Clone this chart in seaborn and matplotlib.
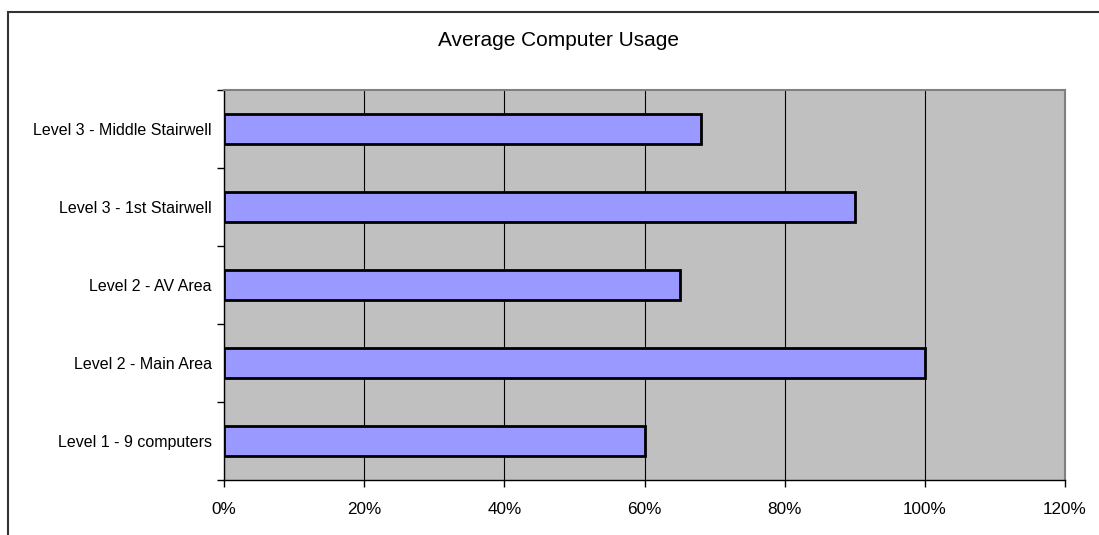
import matplotlib
matplotlib.use('Agg')
import matplotlib.pyplot as plt
import matplotlib.patches as mpatches
import matplotlib.ticker as mticker
import seaborn as sns
import pandas as pd

locations = ['Level 3 - Middle Stairwell', 'Level 3 - 1st Stairwell', 'Level 2 - AV Area',
             'Level 2 - Main Area', 'Level 1 - 9 computers']
usage = [68, 90, 65, 100, 60]
xticks = [0, 20, 40, 60, 80, 100, 120]

df = pd.DataFrame({'location': locations, 'usage': usage})

sns.set_style('white')
plt.rcParams['font.family'] = ['Liberation Sans', 'DejaVu Sans']
plt.rcParams['text.color'] = 'black'
plt.rcParams['xtick.color'] = 'black'
plt.rcParams['ytick.color'] = 'black'

fig = plt.figure(figsize=(10.99, 5.35), dpi=100)
ax = fig.add_axes([224/1099, 55/535, (1065-224)/1099, 390/535])

# outer chart frame
fig.patches.append(mpatches.Rectangle((8/1099, -0.1), 1.2, (535-12)/535 + 0.1,
                                      transform=fig.transFigure, fill=False,
                                      edgecolor='#333333', linewidth=1.5))

sns.barplot(data=df, x='usage', y='location', order=locations, orient='h',
            color='#9999FF', saturation=1, width=0.385, edgecolor='black',
            linewidth=2, ax=ax, zorder=3)

ax.set_facecolor('#C0C0C0')
ax.set_xlim(0, 120)
ax.set_ylim(4.5, -0.5)
ax.set_xticks(xticks)
ax.xaxis.set_major_formatter(mticker.FuncFormatter(lambda v, p: f'{v:.0f}%'))
ax.xaxis.grid(True, color='black', linewidth=0.8)
ax.set_axisbelow(True)

ax.set_yticks([i - 0.5 for i in range(6)], minor=True)
ax.tick_params(axis='y', which='major', length=0, pad=9, labelsize=11.5, labelcolor='black')
ax.tick_params(axis='y', which='minor', length=5, width=1, color='black', left=True)
ax.tick_params(axis='x', length=5, width=1, color='black', bottom=True, pad=10.5,
               labelsize=12.3, labelcolor='black')
ax.set_xlabel('')
ax.set_ylabel('')

for s in ['top', 'right']:
    ax.spines[s].set_color('#808080')
    ax.spines[s].set_linewidth(1.5)
for s in ['left', 'bottom']:
    ax.spines[s].set_color('black')
    ax.spines[s].set_linewidth(1)

fig.text(559/1099, 1 - 40/535, 'Average Computer Usage', ha='center', va='center',
         fontsize=15, color='black')

fig.savefig('out.png', dpi=100)
